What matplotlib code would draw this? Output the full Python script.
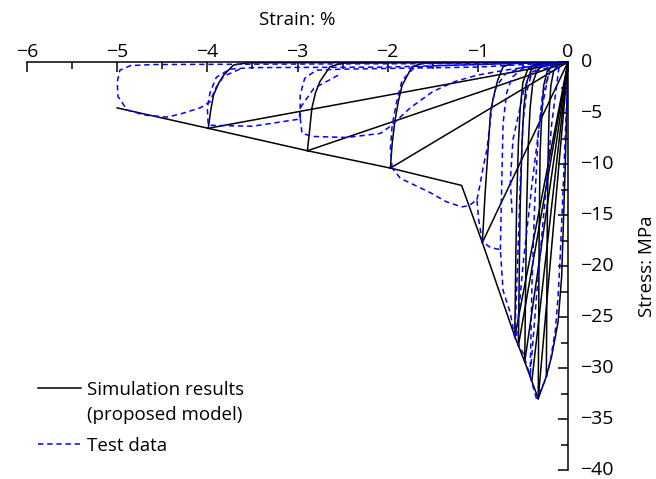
import matplotlib
matplotlib.use("Agg")
import matplotlib.pyplot as plt
from matplotlib.lines import Line2D
from matplotlib.ticker import MultipleLocator

plt.rcParams['font.family'] = ['Open Sans', 'DejaVu Sans']

# ---------------- Simulation results (proposed model) ----------------
sim_env_strain = [0, -0.03, -0.07, -0.11, -0.18, -0.24, -0.33, -0.48, -0.59, -0.95, -1.18, -1.97, -2.89, -3.99, -5.0]
sim_env_stress = [0, -10, -21, -25.5, -28.8, -30.8, -33, -29.4, -26.9, -17.7, -12.1, -10.4, -8.7, -6.5, -4.5]

# unloading branches (strain, stress)
sim_unl1_strain = [-3.99, -3.96, -3.93, -3.87, -3.82, -3.71, -3.55, 0]
sim_unl1_stress = [-6.5, -4.6, -3.2, -2.0, -1.3, -0.3, -0.08, 0]
sim_unl2_strain = [-2.89, -2.86, -2.84, -2.80, -2.75, -2.64, -2.50, 0]
sim_unl2_stress = [-8.7, -6.2, -4.5, -3.0, -1.9, -0.46, -0.1, 0]
sim_unl3_strain = [-1.97, -1.95, -1.92, -1.88, -1.84, -1.73, -1.60, 0]
sim_unl3_stress = [-10.4, -8.0, -5.8, -3.8, -2.3, -0.46, -0.1, 0]
sim_unl4_strain = [-0.95, -0.92, -0.89, -0.86, -0.83, -0.78, -0.72, -0.60, 0]
sim_unl4_stress = [-17.7, -13.0, -9.0, -5.0, -3.6, -1.8, -0.46, -0.1, 0]
sim_unl5_strain = [-0.59, -0.58, -0.57, -0.55, -0.53, -0.50, -0.45, -0.38, 0]
sim_unl5_stress = [-26.9, -20.0, -14.0, -8.0, -4.5, -2.0, -0.8, -0.25, 0]
sim_unl6_strain = [-0.55, -0.54, -0.53, -0.51, -0.49, -0.46, -0.41, -0.33, 0]
sim_unl6_stress = [-27.8, -20.0, -14.0, -8.0, -4.5, -2.0, -0.8, -0.25, 0]
sim_unl7_strain = [-0.48, -0.47, -0.46, -0.44, -0.42, -0.39, -0.34, -0.27, 0]
sim_unl7_stress = [-29.4, -22.0, -15.0, -8.0, -4.5, -2.0, -0.8, -0.25, 0]
sim_unl8_strain = [-0.33, -0.325, -0.32, -0.31, -0.29, -0.27, -0.23, -0.17, 0]
sim_unl8_stress = [-33.0, -25.0, -17.0, -9.0, -5.0, -2.3, -0.9, -0.3, 0]
sim_unl9_strain = [-0.24, -0.235, -0.23, -0.22, -0.21, -0.19, -0.16, -0.11, 0]
sim_unl9_stress = [-30.8, -23.0, -16.0, -9.0, -5.0, -2.3, -0.9, -0.3, 0]

# reloading lines: from origin to these envelope points
sim_rel_strain = [-3.99, -2.89, -1.97, -0.95, -0.59, -0.55, -0.48, -0.40, -0.33]
sim_rel_stress = [-6.5, -8.7, -10.4, -17.7, -26.9, -27.8, -29.4, -31.2, -33.0]

# ---------------- Test data ----------------
test1_strain = [-3.64, -3.82, -3.91, -3.97, -4.08, -4.3, -4.45, -4.7, -4.89, -4.99, -5.0, -4.97, -4.85, -4.6, -3.0, -1.0, 0]
test1_stress = [-0.7, -1.4, -2.6, -3.9, -4.5, -5.1, -5.4, -5.2, -4.7, -3.4, -2.0, -0.8, -0.35, -0.25, -0.2, -0.15, 0]
test2_strain = [-2.55, -2.82, -2.97, -2.98, -3.5, -3.99, -4.0, -3.97, -3.9, -3.75, -3.5, -2.0, 0]
test2_stress = [-1.3, -2.6, -4.5, -5.6, -6.3, -6.2, -4.5, -3.0, -1.5, -0.7, -0.55, -0.5, 0]
test3_strain = [-2.97, -2.95, -2.83, -2.45, -2.08, -1.97, -1.75, -1.5, -1.25, -1.01, -0.7, -0.3, 0]
test3_stress = [-5.5, -7.0, -7.3, -7.4, -7.0, -6.3, -4.5, -2.9, -1.9, -1.3, -0.8, -0.3, 0]
test4_strain = [-2.97, -2.97, -2.92, -2.79, -2.5, -1.0, 0]
test4_stress = [-5.5, -3.2, -1.6, -0.8, -0.7, -0.5, 0]
test5_strain = [-1.95, -1.97, -1.95, -1.9, -1.84, -1.7, -1.4, 0]
test5_stress = [-10.4, -8.5, -6.2, -3.9, -1.8, -0.5, -0.35, 0]
test6_strain = [-0.35, -0.42, -0.5, -0.59, -0.64, -0.72, -0.75, -0.86, -0.95, -0.99, -1.01, -1.1, -1.18, -1.35, -1.53, -1.86, -1.95]
test6_stress = [-33.0, -30.8, -28.5, -27.0, -24.6, -22.4, -18.4, -18.2, -17.6, -15.5, -13.5, -14.1, -14.2, -13.7, -12.8, -11.4, -10.4]
test7_strain = [-1.01, -0.98, -0.94, -0.9, -0.86, -0.84, -0.8, -0.7, -0.5, 0]
test7_stress = [-13.5, -12.2, -10.3, -8.6, -5.7, -4.0, -2.5, -1.2, -0.5, 0]
test8_strain = [-0.75, -0.74, -0.73, -0.72, -0.68, -0.62, -0.5, 0]
test8_stress = [-18.4, -14.0, -10.0, -6.0, -3.0, -1.5, -0.6, 0]
test9_strain = [-0.62, -0.64, -0.61, -0.53, -0.49, -0.4, 0]
test9_stress = [-14.8, -11.6, -7.6, -4.4, -2.7, -1.0, 0]
test10_strain = [0, -0.02, -0.05, -0.07, -0.09, -0.11, -0.14, -0.2, -0.25, -0.35]
test10_stress = [0, -5, -11.6, -15.8, -19.7, -23, -26.3, -29.5, -31.2, -33]
test11_strain = [-0.59, -0.56, -0.53, -0.5, -0.46, -0.4, -0.25, 0]
test11_stress = [-27.0, -20.0, -12.0, -6.0, -3.0, -1.0, -0.3, 0]
test12_strain = [-0.2, -0.3, -0.4, -0.5, -0.57]
test12_stress = [-0.5, -5.0, -12.0, -20.0, -26.9]
test13_strain = [-0.42, -0.40, -0.37, -0.33, -0.28, -0.2, 0]
test13_stress = [-30.8, -22.0, -14.0, -7.0, -3.0, -1.0, 0]
test14_strain = [-0.1, -0.18, -0.26, -0.34, -0.42]
test14_stress = [-0.5, -6.0, -14.0, -22.0, -30.8]

x_ticks = [-6, -5, -4, -3, -2, -1, 0]
y_ticks = [0, -5, -10, -15, -20, -25, -30, -35, -40]

fig = plt.figure(figsize=(6.56, 4.79), dpi=100)
ax = fig.add_axes([27/656, 1-470/479, (568-27)/656, (470-62)/479])

blk = dict(color='black', lw=1.1)
blu = dict(color='#0000ff', lw=1.1, ls=(0, (3.5, 2.5)))

ax.plot(sim_env_strain, sim_env_stress, **blk)
for xs, ys in [(sim_unl1_strain, sim_unl1_stress), (sim_unl2_strain, sim_unl2_stress),
               (sim_unl3_strain, sim_unl3_stress), (sim_unl4_strain, sim_unl4_stress),
               (sim_unl5_strain, sim_unl5_stress), (sim_unl6_strain, sim_unl6_stress),
               (sim_unl7_strain, sim_unl7_stress), (sim_unl8_strain, sim_unl8_stress),
               (sim_unl9_strain, sim_unl9_stress)]:
    ax.plot(xs, ys, **blk)
for xe, ye in zip(sim_rel_strain, sim_rel_stress):
    ax.plot([0, xe], [0, ye], **blk)

for xs, ys in [(test1_strain, test1_stress), (test2_strain, test2_stress),
               (test3_strain, test3_stress), (test4_strain, test4_stress),
               (test5_strain, test5_stress), (test6_strain, test6_stress),
               (test7_strain, test7_stress), (test8_strain, test8_stress),
               (test9_strain, test9_stress), (test10_strain, test10_stress),
               (test11_strain, test11_stress), (test12_strain, test12_stress),
               (test13_strain, test13_stress), (test14_strain, test14_stress)]:
    ax.plot(xs, ys, **blu)

ax.set_xlim(-6, 0)
ax.set_ylim(-40, 0)
ax.spines['left'].set_visible(False)
ax.spines['bottom'].set_visible(False)
ax.spines['top'].set_linewidth(1.1)
ax.spines['right'].set_linewidth(1.1)
ax.xaxis.set_ticks_position('top')
ax.xaxis.set_label_position('top')
ax.yaxis.set_ticks_position('right')
ax.yaxis.set_label_position('right')
ax.set_xticks(x_ticks)
ax.set_yticks(y_ticks)
ax.xaxis.set_minor_locator(MultipleLocator(0.5))
ax.yaxis.set_minor_locator(MultipleLocator(2.5))
ax.set_xticklabels(['\u2212' + str(abs(v)) if v else '0' for v in x_ticks])
ax.set_yticklabels(['\u2212' + str(abs(v)) if v else '0' for v in y_ticks])
ax.tick_params(which='major', direction='in', length=7, width=1.1, labelsize=14)
ax.tick_params(axis='x', which='major', pad=1)
ax.tick_params(axis='y', which='major', pad=9)
ax.tick_params(which='minor', direction='in', length=5, width=1.1)
for lab in ax.get_yticklabels():
    lab.set_va('center')
ax.set_xlabel('Strain: %', fontsize=13.5, labelpad=13)
ax.set_ylabel('Stress: MPa', fontsize=13.5, labelpad=17)

leg1 = ax.legend([Line2D([], [], **blk), Line2D([], [], color='none')],
                 ['Simulation results', '(proposed model)'],
                 loc='upper left', bbox_to_anchor=(0.0203, 0.219), frameon=False,
                 fontsize=13.5, handlelength=2.3, handletextpad=0.3, labelspacing=0.38,
                 borderpad=0, borderaxespad=0)
ax.add_artist(leg1)
ax.legend([Line2D([], [], **blu)], ['Test data'],
          loc='upper left', bbox_to_anchor=(0.0203, 0.081), frameon=False,
          fontsize=13.5, handlelength=2.3, handletextpad=0.3,
          borderpad=0, borderaxespad=0)

fig.savefig('out.png', dpi=100)
